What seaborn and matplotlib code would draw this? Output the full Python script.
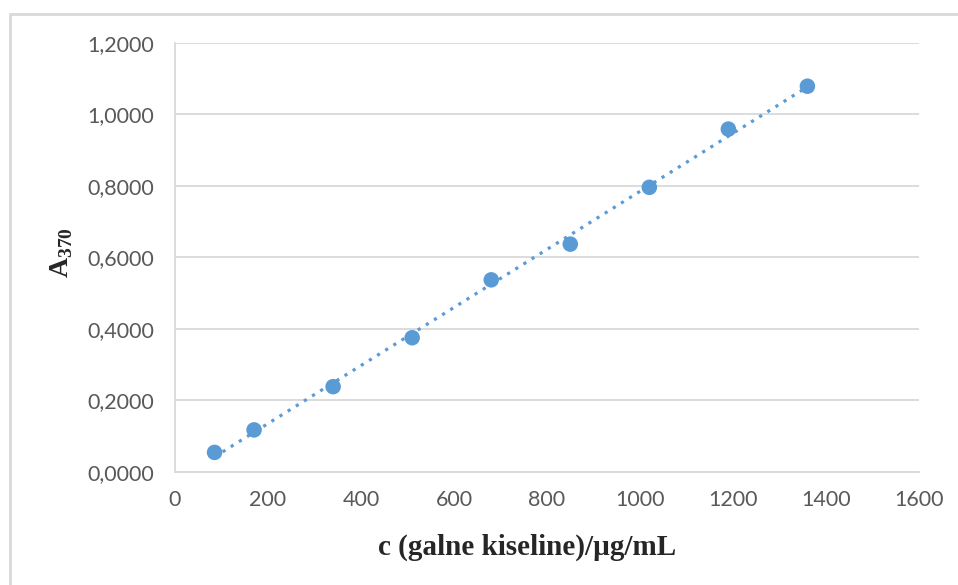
import seaborn as sns
import pandas as pd
import matplotlib.pyplot as plt
from matplotlib.patches import Rectangle
from matplotlib.ticker import FuncFormatter

# calibration data
conc = [85, 170, 340, 510, 680, 850, 1020, 1190, 1360]
a370 = [0.054, 0.117, 0.238, 0.375, 0.537, 0.637, 0.796, 0.959, 1.079]

df = pd.DataFrame({"c": conc, "A": a370})

sns.set_style("white")
plt.rcParams['mathtext.fontset'] = 'custom'
plt.rcParams['mathtext.bf'] = 'Liberation Serif:bold'
plt.rcParams['mathtext.rm'] = 'Liberation Serif'

blue = "#5B9BD5"
grid_c = "#D9D9D9"
tick_c = "#595959"

fig = plt.figure(figsize=(9.58, 5.85), dpi=100)
ax = fig.add_axes([0.1827, 0.1937, 0.7766, 0.7328])

# chart frame (partially cropped like the original)
fig.patches.append(Rectangle((10 / 958, -0.1), 1.2, 1 - 14 / 585 + 0.1,
                             transform=fig.transFigure, fill=False,
                             edgecolor=grid_c, linewidth=2))

sns.regplot(x="c", y="A", data=df, ci=None, ax=ax,
            scatter_kws=dict(s=125, color=blue, edgecolor="none", alpha=1, zorder=3),
            line_kws=dict(color=blue, linestyle=(0, (1, 2)), linewidth=2.3, zorder=2))

ax.set_xlim(0, 1600)
ax.set_ylim(0, 1.2)
ax.set_xticks(range(0, 1601, 200))
ax.set_yticks([0, 0.2, 0.4, 0.6, 0.8, 1.0, 1.2])
ax.yaxis.set_major_formatter(FuncFormatter(lambda v, p: f"{v:.4f}".replace(".", ",")))

ax.grid(axis="y", color=grid_c, linewidth=1.3)
ax.set_axisbelow(True)
for s in ["top", "right"]:
    ax.spines[s].set_visible(False)
for s in ["left", "bottom"]:
    ax.spines[s].set_color(grid_c)
    ax.spines[s].set_linewidth(1.3)

ax.tick_params(axis="both", length=0, labelsize=15.5, labelcolor=tick_c)
ax.tick_params(axis="y", pad=15)
ax.tick_params(axis="x", pad=13)
for lab in ax.get_xticklabels() + ax.get_yticklabels():
    lab.set_fontfamily("Lato")

ax.set_xlabel("c (galne kiseline)/µg/mL", fontfamily="Liberation Serif",
              fontweight="bold", fontsize=21)
ax.xaxis.set_label_coords(0.473, -0.145)
ax.set_ylabel(r"$\mathbf{A}_{\mathbf{370}}$", fontsize=20)
ax.yaxis.set_label_coords(-0.135, 0.51)

plt.savefig("out.png", dpi=100)
